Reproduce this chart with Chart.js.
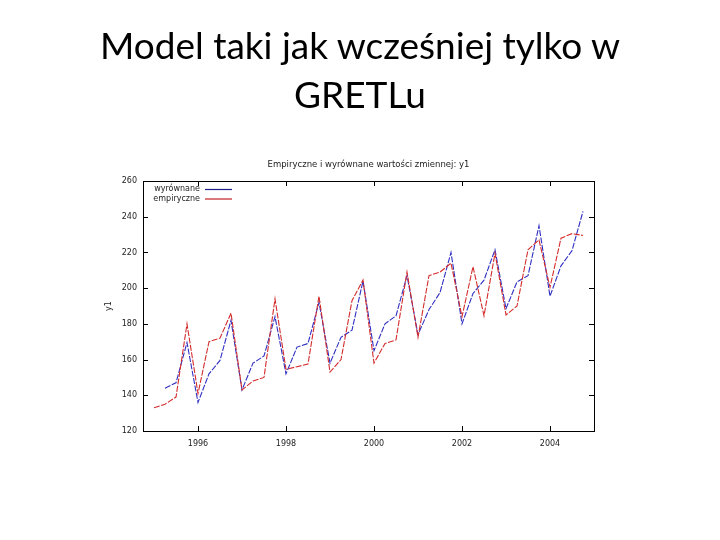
<!DOCTYPE html>
<html lang="pl">
<head>
<meta charset="UTF-8">
<title>Model taki jak wcześniej tylko w GRETLu</title>
<script src="https://cdn.jsdelivr.net/npm/chart.js"></script>
<style>
  body { margin: 0; background: #fff; }
  #slide { position: relative; width: 720px; height: 540px; overflow: hidden; }
  #title {
    position: absolute; left: 0; top: 20px; width: 720px; text-align: center;
    font-family: Lato, "Open Sans", sans-serif; font-size: 37px; line-height: 49px; color: #000;
  }
  #chart { position: absolute; left: 0; top: 0; }
</style>
</head>
<body>
<div id="slide">
  <canvas id="chart" width="720" height="540"></canvas>
  <div id="title">Model taki jak wcześniej tylko w<br>GRETLu</div>
</div>

<script>
// okresy kwartalne (gretl: rok:kwartał)
const periods = [
  '1995:1','1995:2','1995:3','1995:4','1996:1','1996:2','1996:3','1996:4',
  '1997:1','1997:2','1997:3','1997:4','1998:1','1998:2','1998:3','1998:4',
  '1999:1','1999:2','1999:3','1999:4','2000:1','2000:2','2000:3','2000:4',
  '2001:1','2001:2','2001:3','2001:4','2002:1','2002:2','2002:3','2002:4',
  '2003:1','2003:2','2003:3','2003:4','2004:1','2004:2','2004:3','2004:4'
]

// wartości wyrównane (model)
const fitted = [
  null, 144, 147, 169.5, 136, 152, 159.5, 182,
  143, 158, 162, 184, 152, 167, 169, 192,
  158, 172.5, 176.5, 204, 165, 180, 184.5, 207,
  174, 188, 197.5, 220, 180, 197, 204.5, 221.5,
  188.5, 203.5, 207, 235, 195.5, 212.5, 221, 243
]

// wartości empiryczne y1
const empirical = [
  133, 135, 139, 180, 141, 170, 172, 186,
  143, 148, 150, 194, 154.5, 156, 157.5, 195.5,
  153, 160, 193, 204.5, 158, 169, 171, 209,
  172.5, 207, 209, 214, 184, 212, 184.5, 219.5,
  185, 190, 221.5, 227, 200.5, 228, 230.5, 229.5
]

const xTicks = [1996, 1998, 2000, 2002, 2004]
const yTicks = [120, 140, 160, 180, 200, 220, 240, 260]

const chartTitle = 'Empiryczne i wyrównane wartości zmiennej: y1'
const blue = '#2f2fc4'
const red = '#d42c2c'

// pozycja na osi czasu: rok + (kwartał - 1) / 4
const toX = p => {
  const [y, q] = p.split(':').map(Number)
  return y + (q - 1) / 4
}
const points = vals => periods.map((p, i) => ({ x: toX(p), y: vals[i] }))

const tickFont = '8px "DejaVu Sans", sans-serif'

// ramka w stylu gnuplota, znaczniki do wewnątrz, legenda i tytuł
const gnuplotFrame = {
  id: 'gnuplotFrame',
  afterDatasetsDraw(chart) {
    const { ctx, chartArea: a, scales } = chart
    ctx.save()
    ctx.strokeStyle = '#000'
    ctx.lineWidth = 1
    ctx.strokeRect(Math.round(a.left) + 0.5, Math.round(a.top) + 0.5,
      Math.round(a.right - a.left), Math.round(a.bottom - a.top))

    const len = 5
    ctx.beginPath()
    scales.x.ticks.forEach(t => {
      const px = Math.round(scales.x.getPixelForValue(t.value)) + 0.5
      ctx.moveTo(px, a.bottom); ctx.lineTo(px, a.bottom - len)
      ctx.moveTo(px, a.top); ctx.lineTo(px, a.top + len)
    })
    scales.y.ticks.forEach(t => {
      const py = Math.round(scales.y.getPixelForValue(t.value)) + 0.5
      ctx.moveTo(a.left, py); ctx.lineTo(a.left + len, py)
      ctx.moveTo(a.right, py); ctx.lineTo(a.right - len, py)
    })
    ctx.stroke()

    // legenda (lewy górny róg)
    ctx.font = tickFont
    ctx.textAlign = 'right'
    ctx.textBaseline = 'middle'
    const legendItems = [chart.data.datasets[1], chart.data.datasets[0]]
    legendItems.forEach((ds, i) => {
      const y = a.top + 8 + i * 9.5
      ctx.fillStyle = '#222'
      ctx.fillText(ds.label, a.left + 57, y)
      ctx.strokeStyle = ds.legendColor
      ctx.lineWidth = 1.2
      ctx.beginPath()
      ctx.moveTo(a.left + 62, y + 0.5)
      ctx.lineTo(a.left + 89, y + 0.5)
      ctx.stroke()
    })

    // tytuł wykresu
    ctx.fillStyle = '#222'
    ctx.font = '8.5px "DejaVu Sans", sans-serif'
    ctx.textAlign = 'center'
    ctx.fillText(chartTitle, (a.left + a.right) / 2, a.top - 16)
    ctx.restore()
  }
}

new Chart(document.getElementById('chart'), {
  type: 'line',
  data: {
    datasets: [
      {
        label: 'empiryczne',
        data: points(empirical),
        borderColor: red,
        legendColor: '#c02020',
        borderWidth: 1.1,
        borderDash: [6, 1.5],
        pointRadius: 0,
        tension: 0,
        order: 1
      },
      {
        label: 'wyrównane',
        data: points(fitted),
        borderColor: blue,
        legendColor: '#1c1c8a',
        borderWidth: 1.1,
        borderDash: [6, 1.5],
        pointRadius: 0,
        tension: 0,
        order: 2
      }
    ]
  },
  options: {
    responsive: false,
    animation: false,
    devicePixelRatio: 1,
    layout: { padding: { left: 100, top: 181, right: 126, bottom: 80 } },
    plugins: {
      legend: { display: false },
      title: { display: false },
      tooltip: { enabled: false }
    },
    scales: {
      x: {
        type: 'linear',
        min: 1994.75,
        max: 2005,
        afterBuildTicks: s => { s.ticks = xTicks.map(v => ({ value: v })) },
        afterFit: s => { s.height = 29 },
        grid: { display: false, drawTicks: false },
        border: { display: false },
        ticks: {
          color: '#222',
          padding: 8,
          maxRotation: 0,
          font: { family: 'DejaVu Sans', size: 8 },
          callback: v => String(v)
        }
      },
      y: {
        min: 120,
        max: 260,
        afterBuildTicks: s => { s.ticks = yTicks.map(v => ({ value: v })) },
        afterFit: s => { s.width = 43 },
        grid: { display: false, drawTicks: false },
        border: { display: false },
        title: {
          display: true,
          text: 'y1',
          color: '#222',
          padding: { top: 4, bottom: 0 },
          font: { family: 'DejaVu Sans', size: 8 }
        },
        ticks: {
          color: '#222',
          padding: 6,
          font: { family: 'DejaVu Sans', size: 8 }
        }
      }
    }
  },
  plugins: [gnuplotFrame]
})
</script>
</body>
</html>
